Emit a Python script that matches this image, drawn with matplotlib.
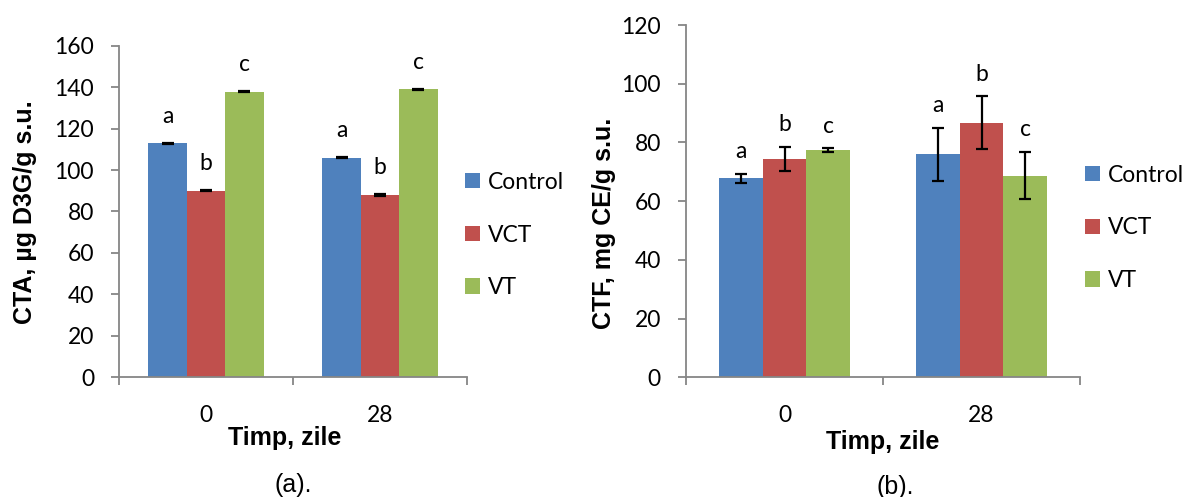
import numpy as np
import matplotlib.pyplot as plt

# sampling days and treatments
days = ['0', '28']
groups = ['Control', 'VCT', 'VT']
letters = ['a', 'b', 'c']

# total anthocyanins, ug D3G/g s.u.
cta_control = [113.0, 106.0]
cta_vct = [90.0, 88.0]
cta_vt = [138.0, 139.0]
cta_err_control = [0.3, 0.3]
cta_err_vct = [0.3, 0.3]
cta_err_vt = [0.3, 0.3]

# total flavonoids, mg CE/g s.u.
ctf_control = [67.8, 75.9]
ctf_vct = [74.4, 86.7]
ctf_vt = [77.4, 68.7]
ctf_err_control = [1.5, 9.0]
ctf_err_vct = [4.2, 9.0]
ctf_err_vt = [0.6, 8.1]

colors = ['#4F81BD', '#C0504D', '#9BBB59']
grey = '#868686'
calibri = ['Lato', 'DejaVu Sans']
arial = ['Liberation Sans', 'DejaVu Sans']

W, H = 1189, 497
fig = plt.figure(figsize=(W / 100, H / 100), dpi=100)


def panel(rect, vals, errs, ymax, ystep, letter_off, legend_xy):
    ax = fig.add_axes(rect)
    x = np.arange(len(days))
    width = 0.221
    for i, (v, e) in enumerate(zip(vals, errs)):
        pos = x + (i - 1) * width
        ax.bar(pos, v, width, color=colors[i], label=groups[i], zorder=2)
        ax.errorbar(pos, v, yerr=e, fmt='none', ecolor='black',
                    elinewidth=1.6, capsize=4.5, capthick=1.6, zorder=3)
        for p, vv, ee in zip(pos, v, e):
            ax.annotate(letters[i], (p, vv + ee), xytext=(0, letter_off),
                        textcoords='offset points', ha='center', va='center',
                        fontsize=16.5, family=calibri)
    ax.set_xlim(-0.5, len(days) - 0.5)
    ax.set_ylim(0, ymax)
    ax.set_yticks(np.arange(0, ymax + 1, ystep))
    # group boundaries carry the tick marks, day labels sit between them
    ax.set_xticks(np.arange(-0.5, len(days)), labels=[])
    ax.set_xticks(x, labels=days, minor=True)
    for s in ['top', 'right']:
        ax.spines[s].set_visible(False)
    for s in ['left', 'bottom']:
        ax.spines[s].set_color(grey)
        ax.spines[s].set_linewidth(1.3)
    ax.tick_params(axis='both', which='major', length=6, width=1.3,
                   color=grey, direction='out')
    ax.tick_params(axis='y', pad=12, labelsize=16.5)
    ax.tick_params(axis='x', which='minor', length=0, pad=20, labelsize=16.5)
    for t in ax.get_yticklabels() + ax.get_xticklabels(minor=True):
        t.set_family(calibri)
    fig.legend(*ax.get_legend_handles_labels(), loc='center left',
               bbox_to_anchor=legend_xy, frameon=False, borderpad=0,
               borderaxespad=0, handlelength=0.65, handleheight=0.65,
               handletextpad=0.35, labelspacing=1.38,
               prop={'family': calibri, 'size': 16.5})
    return ax


panel([119 / W, 1 - 377 / H, 348 / W, 331 / H],
      [cta_control, cta_vct, cta_vt],
      [cta_err_control, cta_err_vct, cta_err_vt],
      160, 20, 19, (465 / W, 1 - 235 / H))
panel([686 / W, 1 - 377.3 / H, 394 / W, 352.3 / H],
      [ctf_control, ctf_vct, ctf_vt],
      [ctf_err_control, ctf_err_vct, ctf_err_vt],
      120, 20, 16, (1085 / W, 1 - 228 / H))

# axis titles and panel captions
fig.text(25 / W, 1 - 212 / H, 'CTA, µg D3G/g s.u.', rotation=90,
         ha='center', va='center', fontsize=18, fontweight='bold', family=arial)
fig.text(604 / W, 1 - 223 / H, 'CTF, mg CE/g s.u.', rotation=90,
         ha='center', va='center', fontsize=18, fontweight='bold', family=arial)
fig.text(285 / W, 1 - 438 / H, 'Timp, zile', ha='center', va='center',
         fontsize=18, fontweight='bold', family=arial)
fig.text(883 / W, 1 - 442 / H, 'Timp, zile', ha='center', va='center',
         fontsize=18, fontweight='bold', family=arial)
fig.text(293 / W, 1 - 485 / H, '(a).', ha='center', va='center',
         fontsize=18, family=arial)
fig.text(895 / W, 1 - 487 / H, '(b).', ha='center', va='center',
         fontsize=18, family=arial)

fig.savefig('out.png', dpi=100)
